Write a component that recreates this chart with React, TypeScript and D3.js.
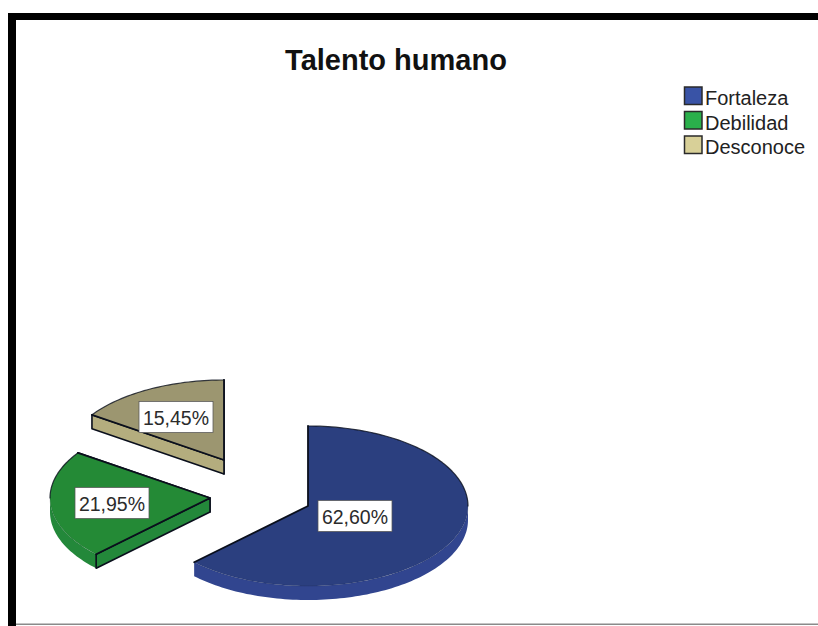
import React from "react";
import * as d3 from "d3";

const categories = ["Fortaleza", "Debilidad", "Desconoce"];
const shares = [62.6, 21.95, 15.45];
const shareLabels = ["62,60%", "21,95%", "15,45%"];
const title = "Talento humano";

const topColors = ["#2b3f7f", "#248a36", "#9c9670"];
const sideColors = ["#31458f", "#23883a", "#b4ad7e"];
const swatchColors = ["#3953a6", "#2ab04b", "#d8d098"];
// Pie centre of each exploded wedge on the page.
const wedgeCenters = [
  [308, 506],
  [210, 498],
  [224, 460],
];
const labelCenters = [
  [355, 516],
  [112, 503],
  [176, 417],
];

const RX = 160;
const RY = 80;
const DEPTH = 14;
const FONT = '"Liberation Sans", Arial, sans-serif';
const EDGE = "#0a0f1c";
const NEAR_START = Math.PI / 2;
const NEAR_END = (3 * Math.PI) / 2;

const pie = d3.pie<number>().sort(null).startAngle(0).endAngle(2 * Math.PI);
const slices = pie(shares);
const line = d3.line();

function rim(cx: number, cy: number, angle: number, dy = 0): [number, number] {
  return [cx + RX * Math.sin(angle), cy - RY * Math.cos(angle) + dy];
}

function arcPoints(cx: number, cy: number, a0: number, a1: number, dy = 0) {
  const n = Math.max(2, Math.ceil((a1 - a0) * 40));
  return d3.range(n + 1).map((i) => rim(cx, cy, a0 + ((a1 - a0) * i) / n, dy));
}

// Outer wall: only the part of the rim on the near side of the ellipse shows.
function outerWall(cx: number, cy: number, a0: number, a1: number) {
  const from = Math.max(a0, NEAR_START);
  const to = Math.min(a1, NEAR_END);
  if (to <= from) return null;
  const upper = arcPoints(cx, cy, from, to);
  const lower = arcPoints(cx, cy, from, to, DEPTH).reverse();
  return line([...upper, ...lower]) + "Z";
}

// Cut face along one radius, extruded downward by the pie's thickness.
function cutWall(cx: number, cy: number, angle: number) {
  const [x, y] = rim(cx, cy, angle);
  return (
    line([
      [cx, cy],
      [x, y],
      [x, y + DEPTH],
      [cx, cy + DEPTH],
    ]) + "Z"
  );
}

function topFace(cx: number, cy: number, a0: number, a1: number) {
  return line([[cx, cy], ...arcPoints(cx, cy, a0, a1)]) + "Z";
}

// The far rim is inked darker than the near rim, which nearly melts into the wall.
function rimSegments(cx: number, cy: number, a0: number, a1: number) {
  const far: string[] = [];
  const nearFrom = Math.max(a0, NEAR_START);
  const nearTo = Math.min(a1, NEAR_END);
  if (a0 < NEAR_START) far.push(line(arcPoints(cx, cy, a0, Math.min(a1, NEAR_START)))!);
  if (a1 > NEAR_END) far.push(line(arcPoints(cx, cy, Math.max(a0, NEAR_END), a1))!);
  const near = nearTo > nearFrom ? line(arcPoints(cx, cy, nearFrom, nearTo)) : null;
  return { far, near };
}

export default function App() {
  return (
    <svg
      width={818}
      height={626}
      style={{ position: "absolute", left: 0, top: 0, display: "block", background: "#fff" }}
    >
      {/* window frame */}
      <rect x={8} y={13} width={810} height={7} fill="#000" />
      <rect x={8} y={13} width={8} height={613} fill="#000" />
      <rect x={16} y={623.5} width={802} height={1.5} fill="#8a8a8a" />

      <text x={396} y={70} textAnchor="middle" fontFamily={FONT} fontWeight={700} fontSize={29} fill="#111">
        {title}
      </text>

      {categories.map((name, i) => (
        <g key={name}>
          <rect
            x={684.5}
            y={87 + i * 24.5}
            width={17.5}
            height={17.5}
            fill={swatchColors[i]}
            stroke="#2a2a2a"
            strokeWidth={1.5}
          />
          <text x={705} y={105 + i * 24.5} fontFamily={FONT} fontSize={20} fill="#222">
            {name}
          </text>
        </g>
      ))}

      {slices.map((s, i) => {
        const [cx, cy] = wedgeCenters[i];
        const wall = outerWall(cx, cy, s.startAngle, s.endAngle);
        const { far, near } = rimSegments(cx, cy, s.startAngle, s.endAngle);
        const [sx, sy] = rim(cx, cy, s.startAngle);
        const [ex, ey] = rim(cx, cy, s.endAngle);
        return (
          <g key={categories[i]} stroke={EDGE} strokeLinejoin="round" strokeLinecap="round">
            {wall && <path d={wall} fill={sideColors[i]} stroke="none" />}
            {s.endAngle > NEAR_END && (
              <path d={cutWall(cx, cy, s.endAngle)} fill={sideColors[i]} strokeWidth={1.6} />
            )}
            {s.startAngle > NEAR_START && (
              <path d={cutWall(cx, cy, s.startAngle)} fill={sideColors[i]} strokeWidth={1.6} />
            )}
            <path d={topFace(cx, cy, s.startAngle, s.endAngle)} fill={topColors[i]} stroke="none" />
            {far.map((d, k) => (
              <path key={k} d={d} fill="none" strokeWidth={1.2} strokeOpacity={0.8} />
            ))}
            {near && <path d={near} fill="none" strokeWidth={0.8} strokeOpacity={0.18} />}
            <path d={line([[sx, sy], [cx, cy], [ex, ey]])!} fill="none" strokeWidth={1.8} />
          </g>
        );
      })}

      {shareLabels.map((label, i) => {
        const [x, y] = labelCenters[i];
        return (
          <g key={label}>
            <rect x={x - 37} y={y - 15.5} width={74} height={31} fill="#fff" stroke="#555" strokeWidth={0.75} />
            <text x={x} y={y + 7.5} textAnchor="middle" fontFamily={FONT} fontSize={19.5} fill="#2b2b2b">
              {label}
            </text>
          </g>
        );
      })}
    </svg>
  );
}
